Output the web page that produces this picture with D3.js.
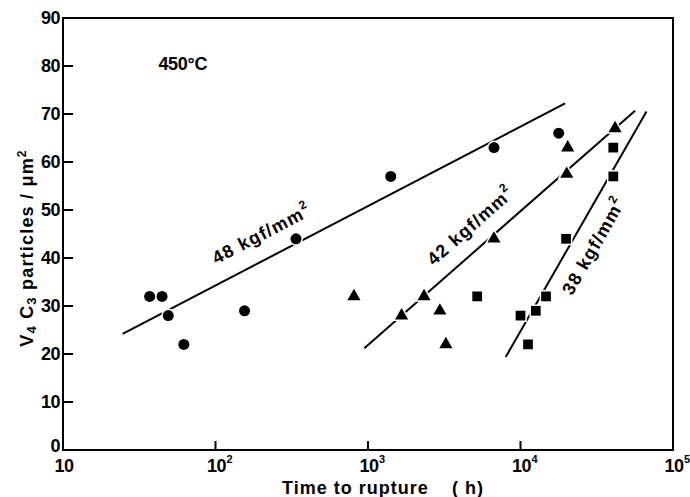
<!DOCTYPE html>
<html><head><meta charset="utf-8">
<script src="https://cdn.jsdelivr.net/npm/d3@7"></script>
<style>
html,body{margin:0;padding:0;background:#fff;}
svg{display:block;}
text{font-family:"Liberation Sans",Arial,sans-serif;font-weight:bold;fill:#000;}
</style></head>
<body>
<svg id="chart" width="690" height="497"></svg>
<script>
// ---- data ----
const xTickExps = [1, 2, 3, 4, 5];               // ticks at 10^1 .. 10^5
const yTicks = [0, 10, 20, 30, 40, 50, 60, 70, 80, 90];
const xTitle = "Time to rupture";
const tempLabel = "450°C";

const s48Times  = [37, 44.6, 49, 62, 155, 337, 1410, 6700, 17800];
const s48Values = [32, 32, 28, 22, 29, 44, 57, 63, 66];
const s42Times  = [809, 1660, 2330, 2960, 3240, 6700, 20100, 20400, 41700];
const s42Values = [32, 28, 32, 29, 22, 44, 57.5, 63, 67];
const s38Times  = [5200, 10000, 11200, 12600, 14700, 19900, 40600, 40600];
const s38Values = [32, 28, 22, 29, 32, 44, 57, 63];

const fit48 = [[24.6, 24.2], [19600, 72.2]];
const fit42 = [[946, 21.2], [56400, 70.7]];
const fit38 = [[8000, 19.4], [67000, 70.5]];

const labels = ["48 kgf/mm", "42 kgf/mm", "38 kgf/mm"];

// ---- layout ----
const svg = d3.select("#chart");
const L = 63, R = 673, T = 18, B = 450;
const x = d3.scaleLog().domain([10, 1e5]).range([L, R]);
const y = d3.scaleLinear().domain([0, 90]).range([B, T]);

// fitted lines
const line = d3.line().x(d => x(d[0])).y(d => y(d[1]));
[fit48, fit42, fit38].forEach(f => {
  svg.append("path").attr("d", line(f)).attr("fill", "none")
    .attr("stroke", "#000").attr("stroke-width", 2);
});

// markers
const halo = {stroke: "#fff", "stroke-width": 3, "paint-order": "stroke"};
function applyHalo(sel){ Object.entries(halo).forEach(([k,v]) => sel.attr(k, v)); return sel; }

applyHalo(svg.append("g").selectAll("circle").data(s48Times.map((t,i)=>[t,s48Values[i]]))
  .join("circle").attr("cx", d => x(d[0])).attr("cy", d => y(d[1])).attr("r", 5.5).attr("fill", "#000"));

const tri = d3.symbol().type(d3.symbolTriangle).size(75);
applyHalo(svg.append("g").selectAll("path").data(s42Times.map((t,i)=>[t,s42Values[i]]))
  .join("path").attr("d", tri).attr("transform", d => `translate(${x(d[0])},${y(d[1])})`).attr("fill", "#000"));

const sq = d3.symbol().type(d3.symbolSquare).size(95);
applyHalo(svg.append("g").selectAll("path").data(s38Times.map((t,i)=>[t,s38Values[i]]))
  .join("path").attr("d", sq).attr("transform", d => `translate(${x(d[0])},${y(d[1])})`).attr("fill", "#000"));

// line labels
const labelAnchors = [[201, 45], [4710, 46.7], [30300, 42.5]];
[fit48, fit42, fit38].forEach((f, i) => {
  const ang = Math.atan2(y(f[1][1]) - y(f[0][1]), x(f[1][0]) - x(f[0][0])) * 180 / Math.PI;
  const px = x(labelAnchors[i][0]), py = y(labelAnchors[i][1]);
  const t = svg.append("text").attr("transform", `translate(${px},${py}) rotate(${ang})`)
    .attr("text-anchor", "middle").attr("dominant-baseline", "central")
    .style("font-size", "18px").style("letter-spacing", "1.3px");
  t.append("tspan").text(labels[i]);
  t.append("tspan").text("2").style("font-size", "12px").attr("dy", -7);
});

// temperature label
svg.append("text").attr("x", x(61)).attr("y", y(80.4)).attr("text-anchor", "middle")
  .attr("dominant-baseline", "central").style("font-size", "18px").style("letter-spacing", "-0.3px")
  .text(tempLabel);

// frame
svg.append("rect").attr("x", L).attr("y", T).attr("width", R - L).attr("height", B - T)
  .attr("fill", "none").attr("stroke", "#000").attr("stroke-width", 2);

// y ticks
const gy = svg.append("g");
yTicks.forEach(v => {
  if (v > 0 && v < 90) gy.append("line").attr("x1", L).attr("x2", L + 10).attr("y1", y(v)).attr("y2", y(v))
    .attr("stroke", "#000").attr("stroke-width", 2);
  gy.append("text").attr("x", L - 3).attr("y", v === 0 ? y(v) - 4 : y(v)).attr("text-anchor", "end")
    .attr("dominant-baseline", "central").style("font-size", "18px").style("letter-spacing", "-0.5px").text(v);
});

// x ticks
const gx = svg.append("g");
xTickExps.forEach(e => {
  const px = x(Math.pow(10, e));
  if (e > 1 && e < 5) gx.append("line").attr("x1", px).attr("x2", px).attr("y1", B).attr("y2", B - 9)
    .attr("stroke", "#000").attr("stroke-width", 2);
  gx.append("text").attr("x", px + 1).attr("y", 472).attr("text-anchor", "middle")
    .style("font-size", "18px").style("letter-spacing", "-0.5px").text("10");
  if (e > 1) gx.append("text").attr("x", px + 11).attr("y", 463).style("font-size", "11px").text(e);
});

// axis titles
const xt = svg.append("text").attr("x", 282).attr("y", 494).style("font-size", "18px").style("letter-spacing", "1px");
xt.append("tspan").text(xTitle);
xt.append("tspan").attr("x", 452).text("( h)");

const yt = svg.append("text").attr("transform", "translate(33,248) rotate(-90)").attr("text-anchor", "middle")
  .style("font-size", "18px").style("letter-spacing", "1.2px");
yt.append("tspan").text("V");
yt.append("tspan").text("4").style("font-size", "13px").attr("dy", 3);
yt.append("tspan").text(" C").attr("dy", -3);
yt.append("tspan").text("3").style("font-size", "13px").attr("dy", 3);
yt.append("tspan").text(" particles  / μm").attr("dy", -3);
yt.append("tspan").text("2").style("font-size", "12px").attr("dy", -7);
</script>
</body></html>
